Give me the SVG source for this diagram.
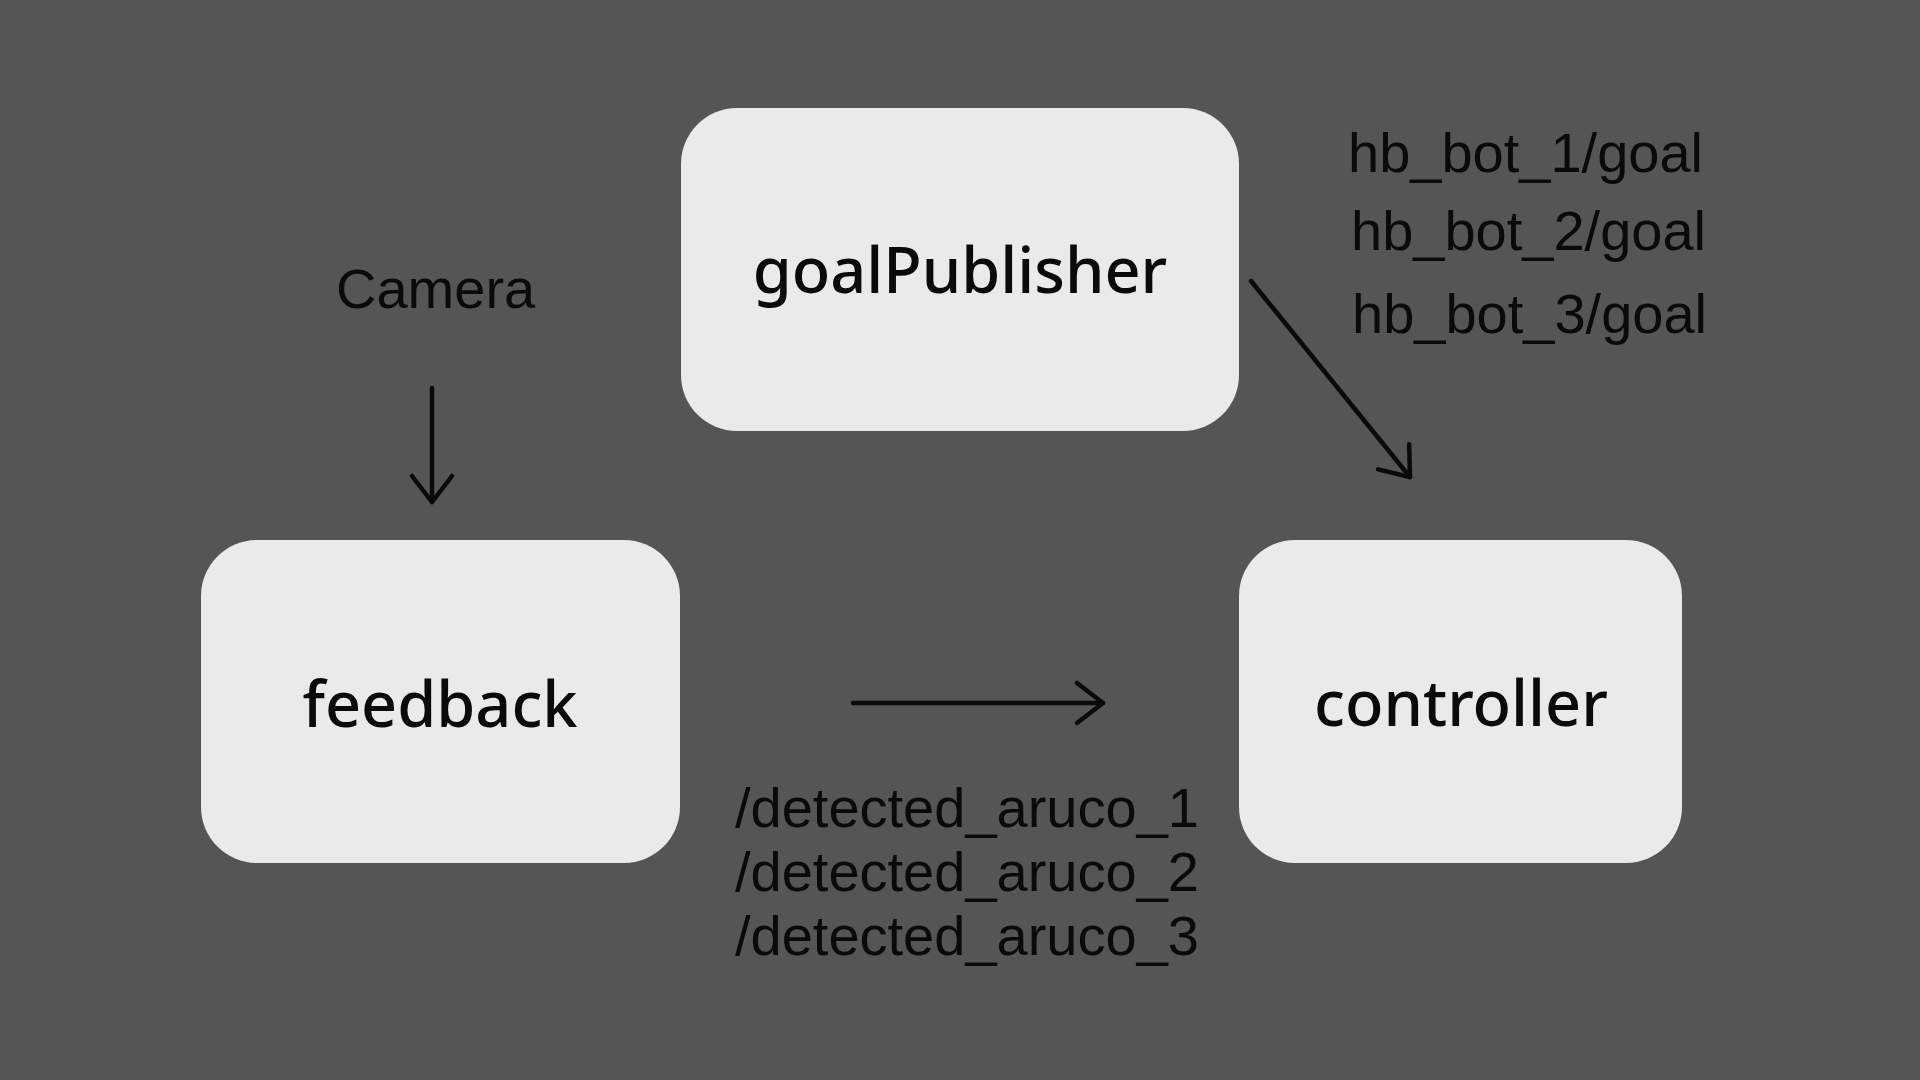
<svg xmlns="http://www.w3.org/2000/svg" width="1920" height="1080" viewBox="0 0 1920 1080">
  <style>
    .box { fill: #eaeaea; }
    .node-label { font-family: "Noto Sans", "Open Sans", sans-serif; font-size: 63px; font-weight: 500; fill: #0a0a0a; text-anchor: middle; }
    .topic { font-family: "Liberation Sans", Arial, sans-serif; font-size: 56px; fill: #0a0a0a; }
    .edge { stroke: #0a0a0a; stroke-width: 4.5; fill: none; stroke-linecap: round; }
  </style>
  <defs>
    <marker id="chev" markerUnits="userSpaceOnUse" viewBox="-32 -26 38 52" markerWidth="38" markerHeight="52" refX="0" refY="0" orient="auto" overflow="visible">
      <path d="M-26,-20 L0,0 L-26,20" fill="none" stroke="#0a0a0a" stroke-width="4.5" stroke-linecap="round" stroke-linejoin="round"/>
    </marker>
  </defs>
  <rect width="1920" height="1080" fill="#555555"/>

  <g id="goalPublisher">
    <rect class="box" x="681" y="108" width="558" height="323" rx="56" ry="56"/>
    <text class="node-label" x="960" y="293">goalPublisher</text>
  </g>
  <g id="feedback">
    <rect class="box" x="201" y="540" width="479" height="323" rx="56" ry="56"/>
    <text class="node-label" x="440" y="727">feedback</text>
  </g>
  <g id="controller">
    <rect class="box" x="1239" y="540" width="443" height="323" rx="56" ry="56"/>
    <text class="node-label" x="1461" y="726">controller</text>
  </g>

  <g id="labels">
    <text class="topic" x="336" y="308">Camera</text>
    <text class="topic" x="1348" y="172">hb_bot_1/goal</text>
    <text class="topic" x="1351" y="250">hb_bot_2/goal</text>
    <text class="topic" x="1352" y="333">hb_bot_3/goal</text>
    <text class="topic" x="735" y="827">/detected_aruco_1</text>
    <text class="topic" x="735" y="891">/detected_aruco_2</text>
    <text class="topic" x="735" y="955">/detected_aruco_3</text>
  </g>

  <g id="connectors">
    <line class="edge" x1="432" y1="388" x2="432" y2="502" marker-end="url(#chev)"/>
    <line class="edge" x1="1251" y1="281" x2="1410" y2="477" marker-end="url(#chev)"/>
    <line class="edge" x1="853" y1="703" x2="1103" y2="703" marker-end="url(#chev)"/>
  </g>
</svg>
